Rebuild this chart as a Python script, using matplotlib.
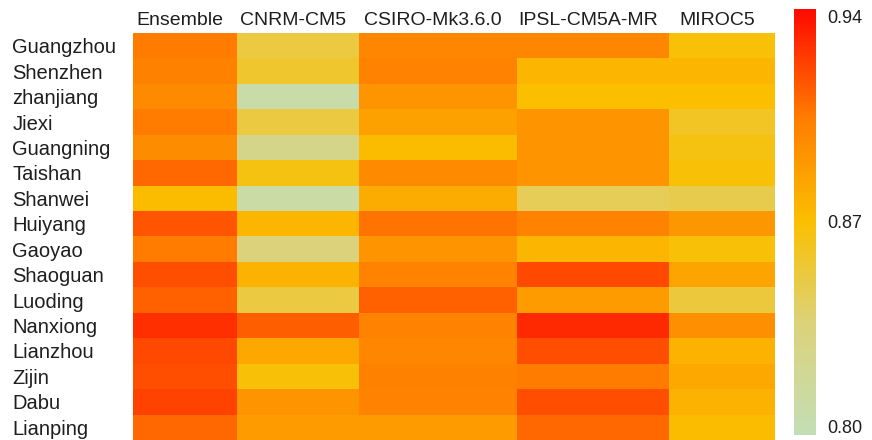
import numpy as np
import matplotlib
matplotlib.use("Agg")
import matplotlib.pyplot as plt
from matplotlib.colors import LinearSegmentedColormap, Normalize

plt.rcParams['font.family'] = ['Liberation Sans', 'DejaVu Sans']

stations = ["Guangzhou", "Shenzhen", "zhanjiang", "Jiexi", "Guangning", "Taishan",
            "Shanwei", "Huiyang", "Gaoyao", "Shaoguan", "Luoding", "Nanxiong",
            "Lianzhou", "Zijin", "Dabu", "Lianping"]
models = ["Ensemble", "CNRM-CM5", "CSIRO-Mk3.6.0", "IPSL-CM5A-MR", "MIROC5"]

ensemble = [0.905, 0.903, 0.898, 0.905, 0.897, 0.912, 0.872, 0.918,
            0.905, 0.920, 0.914, 0.930, 0.922, 0.920, 0.924, 0.912]
cnrm = [0.852, 0.857, 0.805, 0.852, 0.825, 0.865, 0.808, 0.875,
        0.835, 0.877, 0.852, 0.915, 0.882, 0.868, 0.893, 0.889]
csiro = [0.900, 0.902, 0.892, 0.886, 0.872, 0.898, 0.880, 0.908,
         0.893, 0.902, 0.914, 0.902, 0.900, 0.903, 0.902, 0.889]
ipsl = [0.900, 0.875, 0.870, 0.893, 0.893, 0.893, 0.845, 0.902,
        0.875, 0.922, 0.889, 0.932, 0.920, 0.905, 0.920, 0.912]
miroc = [0.868, 0.875, 0.870, 0.860, 0.865, 0.868, 0.848, 0.891,
         0.868, 0.884, 0.853, 0.895, 0.877, 0.882, 0.877, 0.872]

# column widths in the original are not equal
col_widths = [104, 122, 158, 152, 106]

vmin, vmax = 0.797, 0.9425
stops = [(0.797, '#c3deb6'), (0.835, '#dcd27a'), (0.87, '#fbbf00'),
         (0.905, '#ff7d00'), (0.9425, '#ff0a00')]
cmap = LinearSegmentedColormap.from_list(
    "rc", [((v - vmin) / (vmax - vmin), c) for v, c in stops])
norm = Normalize(vmin, vmax)

data = np.array([ensemble, cnrm, csiro, ipsl, miroc]).T
xedges = np.concatenate([[0], np.cumsum(col_widths)])
yedges = np.arange(len(stations) + 1)

fig = plt.figure(figsize=(8.72, 4.40), dpi=100)
ax = fig.add_axes([133 / 872, 0.0, 642 / 872, 1 - 33 / 440])
mesh = ax.pcolormesh(xedges, yedges, data, cmap=cmap, norm=norm)
ax.set_xlim(xedges[0], xedges[-1])
ax.set_ylim(len(stations), 0)
for s in ax.spines.values():
    s.set_visible(False)

ax.xaxis.tick_top()
ax.set_xticks((xedges[:-1] + xedges[1:]) / 2 - 5)
ax.set_xticklabels(models, fontsize=14, color='#1e1e1e')
ax.tick_params(axis='x', length=0, pad=3)

ax.set_yticks(np.arange(len(stations)) + 0.5)
ax.set_yticklabels(stations, fontsize=14.5, color='#1e1e1e', ha='left')
ax.tick_params(axis='y', length=0, pad=87)

cax = fig.add_axes([794 / 872, 5 / 440, 22 / 872, 426 / 440])
cb = fig.colorbar(mesh, cax=cax)
cb.outline.set_visible(False)
cb.set_ticks([0.80, 0.87, 0.94])
cb.set_ticklabels(["0.80", "0.87", "0.94"])
cax.tick_params(length=0, pad=8, labelsize=13, labelcolor='#1e1e1e')

fig.savefig("out.png", dpi=100)
